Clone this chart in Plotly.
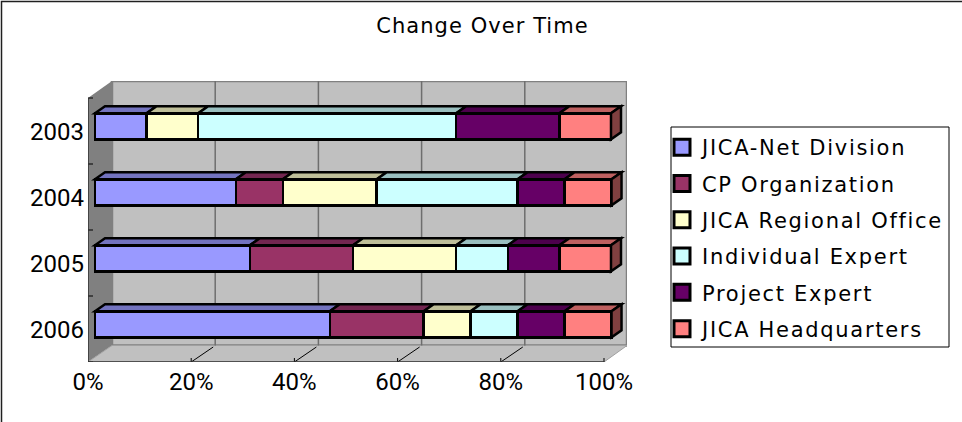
import plotly.graph_objects as go

years = ["2003", "2004", "2005", "2006"]
series_names = ["JICA-Net Division", "CP Organization", "JICA Regional Office",
                "Individual Expert", "Project Expert", "JICA Headquarters"]
jica_net = [10, 27.3, 30, 45.5]
cp_org = [0, 9.1, 20, 18.2]
jica_regional = [10, 18.2, 20, 9.1]
individual = [50, 27.3, 10, 9.1]
project = [20, 9.1, 10, 9.1]
headquarters = [10, 9.1, 10, 9.1]
x_ticks = [0, 20, 40, 60, 80, 100]

all_values = [jica_net, cp_org, jica_regional, individual, project, headquarters]
colors = ["#9999FF", "#993366", "#FFFFCC", "#CCFFFF", "#660066", "#FF8080"]
tops = ["#7373BF", "#732650", "#BFBF99", "#99BFBF", "#4D004D", "#BF6060"]
sides = ["#4D4D80", "#4D1A33", "#808066", "#668080", "#330033", "#804040"]

# pixel geometry of the pseudo-3D frame
PX_PER_PCT = 5.16
ORIGIN = 95
ROW0 = 126.3
ROW_STEP = 66
L, R, T, B = 88, 627, 81, 362
DX, DY = 10, 7
BAR_LINE = 2.5


def X(p):
    return (p - ORIGIN) / PX_PER_PCT


def Y(p):
    return (p - ROW0) / ROW_STEP


def poly(points, fill, line="rgba(0,0,0,0)", width=0, layer="below"):
    d = "M" + "L".join(f"{X(a):.4f},{Y(b):.4f}" for a, b in points) + "Z"
    return dict(type="path", path=d, xref="x", yref="y", fillcolor=fill,
                line=dict(color=line, width=width), layer=layer)


def seg(x0, y0, x1, y1, color, width, layer="below"):
    return dict(type="line", x0=X(x0), y0=Y(y0), x1=X(x1), y1=Y(y1), xref="x", yref="y",
                line=dict(color=color, width=width), layer=layer)


shapes = []
FLOOR_BACK = 345.5
# walls and floor
shapes.append(poly([(112, T), (R, T), (R, FLOOR_BACK), (112, FLOOR_BACK)], "#C0C0C0", "#808080", 2.5))
shapes.append(poly([(L, 98), (112, T), (112, FLOOR_BACK), (L, B)], "#808080"))
shapes.append(poly([(L, B), (112, FLOOR_BACK), (R, FLOOR_BACK), (604, B)], "#C0C0C0", "#A0A0A0", 1))
# gridlines on the back wall and floor ticks
for t in x_ticks:
    fx = L + t * 5.16
    if 0 < t < 100:
        shapes.append(seg(fx + 24, T, fx + 24, FLOOR_BACK, "#6E6E6E", 1.5))
    if t > 0:
        if t < 100:
            shapes.append(seg(fx, B, fx + 22, FLOOR_BACK + 1.5, "#000000", 1))
        shapes.append(seg(fx, B, fx, B - 4, "#000000", 1))
# y axis ticks, axis lines
for i in range(5):
    py = 98 + i * 66
    shapes.append(seg(L, py, L + 5, py, "#000000", 1))
shapes.append(seg(L, 98, L, B, "#303030", 1.5))
shapes.append(seg(L, B, 604, B, "#303030", 1.5))

# depth faces of the bars, derived from the data
for row, _ in enumerate(years):
    cum = 0
    front_top = ROW0 + row * ROW_STEP - 13
    front_bot = front_top + 26
    for s, vals in enumerate(all_values):
        v = vals[row]
        x0 = ORIGIN + cum * PX_PER_PCT
        cum += v
        x1 = ORIGIN + cum * PX_PER_PCT
        if v > 0:
            shapes.append(poly([(x0, front_top), (x0 + DX, front_top - DY),
                                (x1 + DX, front_top - DY), (x1, front_top)],
                               tops[s], "#000000", BAR_LINE, layer="above"))
    shapes.append(poly([(x1, front_top), (x1 + DX, front_top - DY),
                        (x1 + DX, front_bot - DY), (x1, front_bot)],
                       sides[5], "#000000", BAR_LINE, layer="above"))

W = R - L
H = B - T


def PX(p):
    return (p - L) / W


def PY(p):
    return (B - p) / H


# outer chart border (left and top only reach the photographed edge)
shapes.append(dict(type="path", xref="paper", yref="paper",
                   path=f"M{PX(1.5):.5f},{PY(424):.5f}L{PX(1.5):.5f},{PY(1.5):.5f}L{PX(964):.5f},{PY(1.5):.5f}",
                   line=dict(color="#202020", width=1.5)))
# legend frame
shapes.append(dict(type="rect", xref="paper", yref="paper", x0=PX(671), x1=PX(949), y0=PY(127), y1=PY(347),
                   fillcolor="#FFFFFF", line=dict(color="#000000", width=1), layer="below"))

fig = go.Figure()
for name, vals, c in zip(series_names, all_values, colors):
    fig.add_trace(go.Bar(y=years, x=vals, orientation="h", name=name, legendgroup=name,
                         showlegend=False, marker=dict(color=c, line=dict(color="#000000", width=BAR_LINE))))
    fig.add_trace(go.Scatter(x=[None], y=[None], mode="markers", name=name, legendgroup=name,
                             marker=dict(symbol="square", size=16, color=c,
                                         line=dict(color="#000000", width=3))))

fig.update_layout(
    width=962, height=422,
    barmode="stack", bargap=1 - 26 / 66,
    margin=dict(l=L, r=962 - R, t=T, b=422 - B, pad=0),
    paper_bgcolor="#FFFFFF", plot_bgcolor="rgba(0,0,0,0)",
    title=dict(text="Change Over Time", x=482.5 / 962, xanchor="center", y=1 - 26 / 422, yanchor="middle",
               font=dict(family="DejaVu Sans", size=21, color="#000000")),
    xaxis=dict(range=[X(L), X(R)], tickvals=x_ticks, ticktext=[f"{t}%" for t in x_ticks],
               showgrid=False, zeroline=False, showline=False, ticks="",
               ticklabelshift=-7, ticklabelstandoff=3,
               tickfont=dict(family="Roboto", size=24, color="#000000")),
    yaxis=dict(type="category", categoryorder="array", categoryarray=years, range=[Y(B), Y(T)],
               showgrid=False, zeroline=False, showline=False, ticks="",
               ticklabelshift=-5, ticklabelstandoff=3,
               tickfont=dict(family="Roboto", size=24, color="#000000")),
    legend=dict(x=PX(675), xanchor="left", y=PY(127), yanchor="top",
                bgcolor="rgba(0,0,0,0)", borderwidth=0,
                indentation=-13, tracegroupgap=6, itemclick=False, itemdoubleclick=False,
                font=dict(family="DejaVu Sans", size=21, color="#000000")),
    shapes=shapes,
)
page_setup = (
    "document.body.style.margin='0';document.body.style.overflow='hidden';"
    "var s=document.createElement('style');"
    "s.textContent='.legendtext{letter-spacing:1.7px}.gtitle{letter-spacing:1.05px}"
    ".legend,.legend .scrollbox{clip-path:none!important}';"
    "document.head.appendChild(s);"
)
fig.write_html("out.html", config={"displayModeBar": False}, post_script=page_setup)
